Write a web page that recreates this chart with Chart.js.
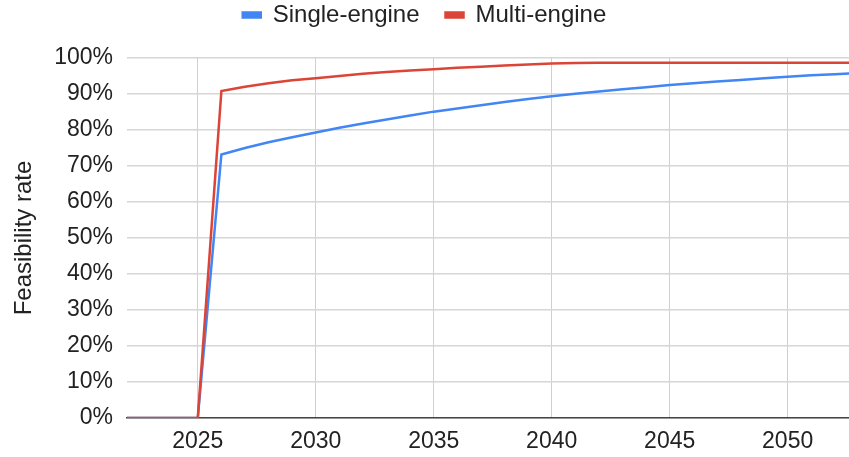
<!DOCTYPE html>
<html>
<head>
<meta charset="utf-8">
<script src="https://cdn.jsdelivr.net/npm/chart.js@4.4.0/dist/chart.umd.min.js"></script>
<style>
  html, body { margin: 0; padding: 0; background: #fff; }
  #wrap { width: 849px; height: 457px; }
</style>
</head>
<body>
<div id="wrap"><canvas id="feasChart"></canvas></div>
<script>
// data (percent)
var years = [2022, 2023, 2024, 2025, 2026, 2027, 2028, 2029, 2030, 2031, 2032, 2033, 2034, 2035, 2036, 2037,
             2038, 2039, 2040, 2041, 2042, 2043, 2044, 2045, 2046, 2047, 2048, 2049, 2050, 2051, 2052, 2053];
var singleEngine = [0, 0, 0, 0, 73.2, 75.0, 76.6, 78.0, 79.3, 80.6, 81.8, 82.9, 84.0, 85.1, 86.0, 86.9,
                    87.8, 88.6, 89.4, 90.1, 90.7, 91.3, 91.9, 92.5, 93.0, 93.5, 93.9, 94.4, 94.8, 95.2, 95.5, 95.8];
var multiEngine = [0, 0, 0, 0, 90.8, 92.0, 93.0, 93.8, 94.4, 95.0, 95.6, 96.1, 96.5, 96.9, 97.3, 97.6,
                   97.9, 98.2, 98.5, 98.6, 98.7, 98.7, 98.7, 98.7, 98.7, 98.7, 98.7, 98.7, 98.7, 98.7, 98.7, 98.7];
var xTicks = [2025, 2030, 2035, 2040, 2045, 2050];

function toPoints(vals) {
    return years.map(function(y, i) { return { x: y, y: vals[i] }; });
}

var fam = "'Liberation Sans', Arial, sans-serif";
var tickFont = { family: fam, size: 23 };
var bigFont = { family: fam, size: 24 };

// fixes the legend height so the plot starts where it should
var legendHeight = {
    id: 'legendHeight',
    beforeLayout: function(chart) {
        var lg = chart.legend;
        if (lg && !lg._fixedFit) {
            var origFit = lg.fit;
            lg.fit = function() {
                origFit.call(this);
                this.height = 81;
            };
            lg._fixedFit = true;
        }
    }
};

var ctx = document.getElementById('feasChart').getContext('2d');
var chart = new Chart(ctx, {
    type: 'line',
    data: {
        datasets: [{
            label: 'Single-engine',
            data: toPoints(singleEngine),
            borderColor: '#4285F4',
            backgroundColor: '#4285F4',
            borderWidth: 2.5,
            pointRadius: 0,
            tension: 0,
            order: 2
        }, {
            label: 'Multi-engine',
            data: toPoints(multiEngine),
            borderColor: '#DB4437',
            backgroundColor: '#DB4437',
            borderWidth: 2.5,
            pointRadius: 0,
            tension: 0,
            order: 1
        }]
    },
    plugins: [legendHeight],
    options: {
        responsive: true,
        maintainAspectRatio: false,
        animation: false,
        layout: { padding: { left: 0, right: 0, top: -23, bottom: 0 } },
        plugins: {
            legend: {
                position: 'top',
                labels: {
                    font: bigFont,
                    color: '#222',
                    boxWidth: 18,
                    boxHeight: 5,
                    padding: 26,
                    sort: function(a, b) { return a.datasetIndex - b.datasetIndex; }
                }
            },
            tooltip: { enabled: false }
        },
        scales: {
            x: {
                type: 'linear',
                min: 2022,
                max: 2052.6,
                afterBuildTicks: function(scale) {
                    scale.ticks = xTicks.map(function(v) { return { value: v }; });
                },
                afterFit: function(scale) { scale.height = 39; },
                ticks: {
                    font: tickFont,
                    color: '#222',
                    padding: 10,
                    maxRotation: 0,
                    callback: function(v) { return String(v); }
                },
                grid: { color: '#d0d0d0', drawTicks: false },
                border: { color: '#444', width: 1.5 }
            },
            y: {
                min: 0,
                max: 100,
                afterFit: function(scale) { scale.width = 127; },
                ticks: {
                    stepSize: 10,
                    font: tickFont,
                    color: '#222',
                    padding: 14,
                    callback: function(v) { return v + '%'; }
                },
                grid: { color: '#d6d6d6', drawTicks: false, lineWidth: 1.5 },
                border: { display: false },
                title: {
                    display: true,
                    text: 'Feasibility rate',
                    font: bigFont,
                    color: '#222',
                    padding: { top: 10, bottom: 0 }
                }
            }
        }
    }
});
</script>
</body>
</html>
